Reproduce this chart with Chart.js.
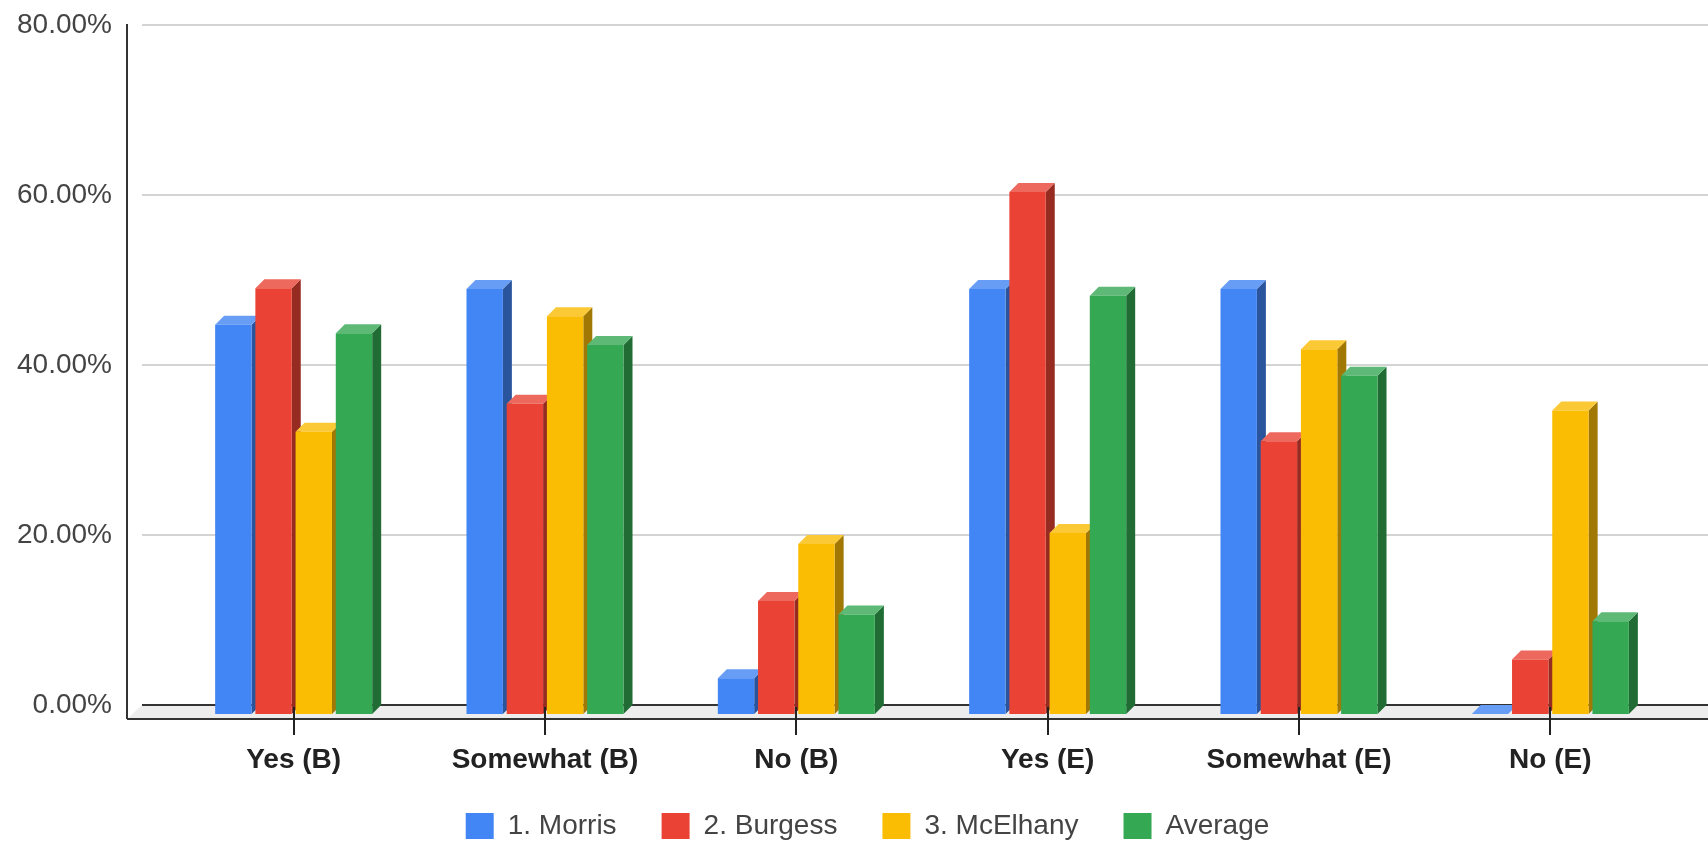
<!DOCTYPE html>
<html>
<head>
<meta charset="utf-8">
<script src="https://cdn.jsdelivr.net/npm/chart.js@4.4.1/dist/chart.umd.min.js"></script>
<style>
  html, body { margin: 0; padding: 0; background: #ffffff; }
  #wrap { width: 1708px; height: 841px; }
</style>
</head>
<body>
<div id="wrap"><canvas id="chart" width="1708" height="841"></canvas></div>
<script>
// Survey answers, percentage of respondents per answer
const categories = ['Yes (B)', 'Somewhat (B)', 'No (B)', 'Yes (E)', 'Somewhat (E)', 'No (E)'];
const morris    = [45.8, 50.0, 4.2, 50.0, 50.0, 0.0];
const burgess   = [50.1, 36.5, 13.3, 61.4, 32.1, 6.4];
const mcelhany  = [33.2, 46.8, 20.0, 21.3, 42.9, 35.7];
const average   = [44.8, 43.4, 11.7, 49.2, 39.8, 10.9];
const seriesNames = ['1. Morris', '2. Burgess', '3. McElhany', 'Average'];
const yTicks = [0, 20, 40, 60, 80];

const COLORS = ['#4285F4', '#EA4335', '#FBBC04', '#34A853'];
const FONT = '"Liberation Sans", Arial, sans-serif';
const DEPTH = 9;          // extrusion of each bar (px)
const WALL_X = 15;        // depth of the floor / side wall
const WALL_Y = 14;

function shade(hex, f) {
  const n = parseInt(hex.slice(1), 16);
  const r = (n >> 16) & 255, g = (n >> 8) & 255, b = n & 255;
  const c = v => Math.max(0, Math.min(255, Math.round(f < 1 ? v * f : v + (255 - v) * (f - 1))));
  return `rgb(${c(r)},${c(g)},${c(b)})`;
}

// Draws the back wall, floor, bar sides/tops and category ticks,
// and shifts the native bar rectangles forward so they form the front faces.
const depthPlugin = {
  id: 'depth3d',
  afterLayout(chart) {
    // let the category labels hang below the axis box, centre the legend under the plot
    chart.scales.x.bottom = chart.height;
    chart.legend.left += 25;
    chart.legend.right += 25;
  },
  beforeDatasetsDraw(chart) {
    const { ctx, chartArea, scales: { x, y } } = chart;
    const wallLeft = chartArea.left - 35;
    const axisX = wallLeft - WALL_X;
    const right = chart.width;
    const y0 = y.getPixelForValue(0);
    const floorFront = y0 + WALL_Y;
    ctx.save();

    // back wall grid lines
    ctx.strokeStyle = '#d4d4d4';
    ctx.lineWidth = 2;
    y.ticks.forEach(t => {
      if (t.value === 0) return;
      const py = Math.round(y.getPixelForValue(t.value));
      ctx.beginPath(); ctx.moveTo(wallLeft, py); ctx.lineTo(right, py); ctx.stroke();
    });

    // floor
    ctx.fillStyle = '#ededed';
    ctx.beginPath();
    ctx.moveTo(wallLeft, y0); ctx.lineTo(right, y0);
    ctx.lineTo(right, floorFront); ctx.lineTo(axisX, floorFront);
    ctx.closePath(); ctx.fill();

    ctx.strokeStyle = '#333333';
    ctx.lineWidth = 2;
    ctx.beginPath(); ctx.moveTo(wallLeft, y0); ctx.lineTo(right, y0); ctx.stroke();
    ctx.beginPath(); ctx.moveTo(axisX, floorFront); ctx.lineTo(right, floorFront); ctx.stroke();
    ctx.beginPath(); ctx.moveTo(axisX, y.getPixelForValue(80) - 1); ctx.lineTo(axisX, floorFront); ctx.stroke();

    // side and top faces
    chart.data.datasets.forEach((ds, di) => {
      const meta = chart.getDatasetMeta(di);
      const base = ds.backgroundColor;
      const sideCol = shade(base, 0.64);
      const topCol = shade(base, 1.2);
      meta.data.forEach(bar => {
        const p = bar.getProps(['x', 'y', 'base', 'width'], true);
        const l = p.x - p.width / 2 - DEPTH, r = p.x + p.width / 2 - DEPTH;
        const ft = p.y + DEPTH, fb = p.base + DEPTH;
        ctx.fillStyle = sideCol;
        ctx.beginPath();
        ctx.moveTo(r, ft); ctx.lineTo(r + DEPTH, ft - DEPTH);
        ctx.lineTo(r + DEPTH, fb - DEPTH); ctx.lineTo(r, fb);
        ctx.closePath(); ctx.fill();
        ctx.fillStyle = topCol;
        ctx.beginPath();
        ctx.moveTo(l, ft); ctx.lineTo(l + DEPTH, ft - DEPTH);
        ctx.lineTo(r + DEPTH, ft - DEPTH); ctx.lineTo(r, ft);
        ctx.closePath(); ctx.fill();
      });
    });

    // category tick marks on the front edge
    ctx.strokeStyle = '#222222';
    ctx.lineWidth = 2;
    categories.forEach((c, i) => {
      const px = Math.round(x.getPixelForValue(i) - DEPTH);
      ctx.beginPath(); ctx.moveTo(px, y0 + 2); ctx.lineTo(px, floorFront + 16); ctx.stroke();
    });
    ctx.restore();
  },
  beforeDatasetDraw(chart) {
    chart.ctx.save();
    chart.ctx.translate(-DEPTH, DEPTH);
  },
  afterDatasetDraw(chart) {
    chart.ctx.restore();
  }
};

const seriesData = [morris, burgess, mcelhany, average];

new Chart(document.getElementById('chart'), {
  type: 'bar',
  data: {
    labels: categories,
    datasets: seriesNames.map((name, i) => ({
      label: name,
      data: seriesData[i],
      backgroundColor: COLORS[i],
      borderWidth: 0,
      categoryPercentage: 0.64,
      barPercentage: 0.905,
      clip: false
    }))
  },
  options: {
    responsive: false,
    animation: false,
    devicePixelRatio: 1,
    layout: { padding: { top: 25, left: 0, right: 23, bottom: -9 } },
    plugins: {
      tooltip: { enabled: false },
      legend: {
        position: 'bottom',
        labels: {
          boxWidth: 28,
          boxHeight: 26,
          padding: 45,
          color: '#444444',
          font: { family: FONT, size: 28 }
        }
      }
    },
    scales: {
      x: {
        grid: { display: false, drawTicks: false },
        border: { display: false },
        ticks: {
          color: '#222222',
          font: { family: FONT, size: 28, weight: 'bold' },
          padding: 38,
          labelOffset: -DEPTH,
          maxRotation: 0,
          autoSkip: false
        },
        afterFit(scale) { scale.height = 62; }
      },
      y: {
        min: 0,
        max: 80,
        afterBuildTicks(scale) { scale.ticks = yTicks.map(v => ({ value: v })); },
        grid: { display: false, drawTicks: false },
        border: { display: false },
        ticks: {
          color: '#444444',
          font: { family: FONT, size: 28 },
          padding: 65,
          callback: v => v.toFixed(2) + '%'
        },
        afterFit(scale) {
          scale.width = 177;
          scale.paddingTop = 17;
          scale.paddingBottom = 17;
        }
      }
    }
  },
  plugins: [depthPlugin]
});
</script>
</body>
</html>
